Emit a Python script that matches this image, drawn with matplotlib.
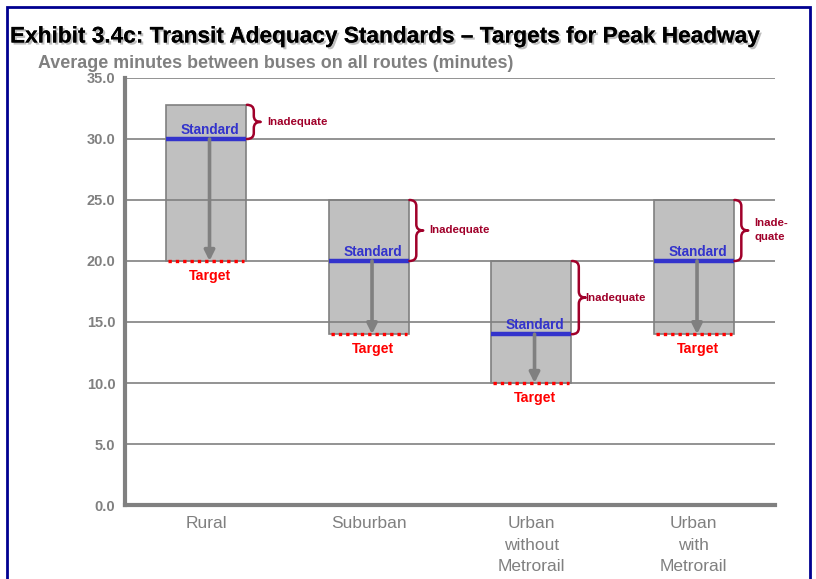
import matplotlib
matplotlib.use('Agg')
from matplotlib import pyplot as plt
from matplotlib.path import Path
from matplotlib.patches import PathPatch, Rectangle
import matplotlib.patheffects as pe
import numpy as np

plt.rcParams['font.family'] = ['Liberation Sans', 'DejaVu Sans']

categories = ['Rural', 'Suburban', 'Urban\nwithout\nMetrorail', 'Urban\nwith\nMetrorail']
top_values = [32.8, 25.0, 20.0, 25.0]
standard_values = [30.0, 20.0, 14.0, 20.0]
target_values = [20.0, 14.0, 10.0, 14.0]
inadequate_labels = ['Inadequate', 'Inadequate', 'Inadequate', 'Inade-\nquate']
y_ticks = [0, 5, 10, 15, 20, 25, 30, 35]

GRAY = '#808080'
BLUE = '#3333CC'
RED = '#FF0000'
DARK_RED = '#A0002A'

# offsets of the "Inadequate" text from the bar's right edge
label_dx = [0.13, 0.13, 0.09, 0.13]


def brace(ax, x0, y0, y1, w, r, color):
    ym = (y0 + y1) / 2
    xm = x0 + w / 2
    verts = [(x0, y1), (xm, y1), (xm, y1 - r),
             (xm, ym + r),
             (xm, ym), (x0 + w, ym),
             (xm, ym), (xm, ym - r),
             (xm, y0 + r),
             (xm, y0), (x0, y0)]
    codes = [Path.MOVETO, Path.CURVE3, Path.CURVE3,
             Path.LINETO,
             Path.CURVE3, Path.CURVE3,
             Path.CURVE3, Path.CURVE3,
             Path.LINETO,
             Path.CURVE3, Path.CURVE3]
    ax.add_patch(PathPatch(Path(verts, codes), fill=False, edgecolor=color,
                           lw=1.8, zorder=4, capstyle='round', joinstyle='round'))


fig = plt.figure(figsize=(8.16, 5.79), dpi=100)
ax = fig.add_axes([0.1532, 0.1278, 0.7966, 0.7375])

x = np.arange(len(categories)) + 0.5
bw = 0.49

for yt in y_ticks[1:]:
    ax.axhline(yt, color=GRAY, lw=1.2, zorder=1.5)

ax.bar(x, np.array(top_values) - np.array(target_values), bottom=target_values,
       width=bw, color='#C0C0C0', edgecolor=GRAY, lw=1.2, zorder=1)

for i in range(len(categories)):
    left, right = x[i] - bw / 2, x[i] + bw / 2
    ax.plot([left, right], [standard_values[i]] * 2, color=BLUE, lw=3.2,
            solid_capstyle='butt', zorder=3)
    ax.plot([left + 0.01, right - 0.01], [target_values[i]] * 2, color=RED, lw=2.4,
            linestyle=(0, (1, 1.2)), zorder=3)
    ax.annotate('', xy=(x[i] + 0.02, target_values[i]),
                xytext=(x[i] + 0.02, standard_values[i]),
                arrowprops=dict(arrowstyle='-|>,head_length=0.6,head_width=0.3',
                                color=GRAY, lw=2.6, shrinkA=0, shrinkB=0), zorder=3)
    ax.text(x[i] + 0.025, standard_values[i] + 0.45, 'Standard', color=BLUE,
            fontsize=9.8, fontweight='bold', ha='center', va='baseline', zorder=5)
    ax.text(x[i] + 0.025, target_values[i] - 0.65, 'Target', color=RED,
            fontsize=10.2, fontweight='bold', ha='center', va='top', zorder=5)
    brace(ax, right + 0.005, standard_values[i], top_values[i], 0.085, 0.5, DARK_RED)
    ax.text(right + label_dx[i], (standard_values[i] + top_values[i]) / 2,
            inadequate_labels[i], color=DARK_RED, fontsize=8.2, fontweight='bold',
            ha='left', va='center', linespacing=1.5, zorder=5)

ax.set_xlim(0, 4)
ax.set_ylim(0, 35)
ax.set_xticks(x)
ax.set_xticklabels(categories, color=GRAY, fontsize=12.5, linespacing=1.55)
ax.set_yticks(y_ticks)
ax.set_yticklabels([f'{v:.1f}' for v in y_ticks], color=GRAY, fontsize=10.5,
                   fontweight='bold')
ax.tick_params(axis='both', length=0)
ax.tick_params(axis='y', pad=7)
ax.tick_params(axis='x', pad=8)
for s in ['top', 'right']:
    ax.spines[s].set_visible(False)
for s in ['left', 'bottom']:
    ax.spines[s].set_color(GRAY)
    ax.spines[s].set_linewidth(3)
    ax.spines[s].set_zorder(6)

fig.text(10 / 816, 1 - 36 / 579, 'Exhibit 3.4c: Transit Adequacy Standards \u2013 Targets for Peak Headway',
         fontsize=16.3, fontweight='bold', color='black', ha='left', va='center',
         path_effects=[pe.withSimplePatchShadow(offset=(1.5, -1.5), shadow_rgbFace='#808080', alpha=0.5),
                       pe.Normal()])
fig.text(38 / 816, 1 - 64 / 579, 'Average minutes between buses on all routes (minutes)',
         fontsize=12.9, fontweight='bold', color=GRAY, ha='left', va='center')

fig.patches.append(Rectangle((7 / 816, -0.05), 803 / 816, 1.05 - 7 / 579,
                             transform=fig.transFigure, fill=False,
                             edgecolor='#000090', lw=2, zorder=10))

fig.savefig('out.png', dpi=100)
